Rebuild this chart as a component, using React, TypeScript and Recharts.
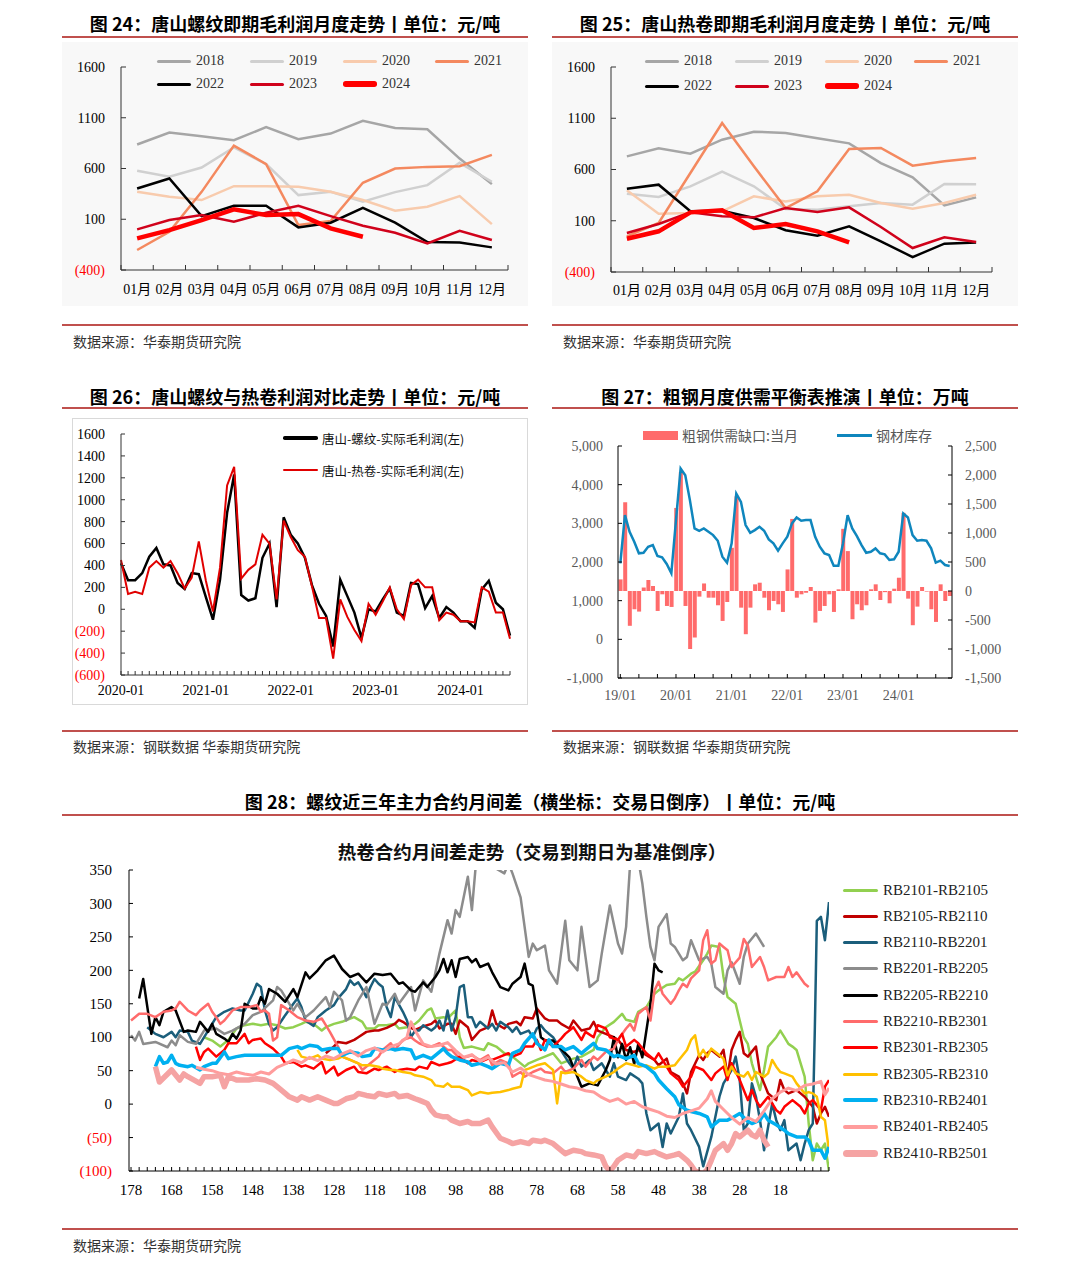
import React from 'react';
import { LineChart, Line, XAxis, YAxis, ComposedChart, Bar } from 'recharts';

const SERIF = "'Liberation Serif', 'Noto Sans CJK SC', serif";
const SANS = "'Noto Sans CJK SC', 'Noto Sans', sans-serif";
const RULE = '#c0504d';

// ---- fig 24 / 25: monthly spot gross profit ----
const MONTHS = ['01月', '02月', '03月', '04月', '05月', '06月', '07月', '08月', '09月', '10月', '11月', '12月'];
const YEARS = ['2018', '2019', '2020', '2021', '2022', '2023', '2024'];

const rebar2018 = [836, 954, 918, 879, 1007, 889, 944, 1069, 1000, 987, 698, 446];
const rebar2019 = [577, 518, 610, 807, 643, 338, 370, 272, 367, 436, 656, 469];
const rebar2020 = [370, 321, 289, 426, 426, 420, 370, 289, 184, 223, 328, 52];
const rebar2021 = [-203, -23, 370, 826, 643, 43, 82, 459, 600, 616, 623, 734];
const rebar2022 = [403, 502, 131, 233, 233, 20, 66, 213, 66, -125, -128, -177];
const rebar2023 = [0, 92, 141, 75, 164, 233, 131, 36, -33, -138, -13, -105];
const rebar2024 = [-89, -7, 92, 197, 141, 151, 10, -72];

const coil2018 = [728, 806, 754, 891, 969, 956, 904, 855, 663, 524, 250, 328];
const coil2019 = [364, 332, 436, 579, 436, 215, 208, 241, 273, 257, 459, 455];
const coil2020 = [397, 169, 176, 192, 338, 289, 338, 354, 273, 218, 273, 354];
const coil2021 = [-52, 78, 566, 1054, 631, 224, 387, 800, 810, 637, 680, 712];
const coil2022 = [413, 452, 192, 198, 127, 7, -45, 46, -101, -254, -124, -111];
const coil2023 = [-20, 68, 182, 143, 133, 224, 185, 231, 39, -166, -62, -107];
const coil2024 = [-75, -3, 182, 202, 29, 68, -3, -111];

const YEAR_COLORS = ['#a6a6a6', '#d0d0d0', '#f8cbad', '#f4895f', '#000000', '#d0021b', '#ff0000'];
const YEAR_WIDTHS = [2.5, 2.5, 2.5, 2.5, 2.5, 2.5, 4.5];

const buildYearRows = (series: number[][]) =>
  MONTHS.map((_, i) => {
    const row: any = { x: i + 0.5 };
    YEARS.forEach((y, k) => {
      row[y] = series[k][i];
    });
    return row;
  });

const rebarRows = buildYearRows([rebar2018, rebar2019, rebar2020, rebar2021, rebar2022, rebar2023, rebar2024]);
const coilRows = buildYearRows([coil2018, coil2019, coil2020, coil2021, coil2022, coil2023, coil2024]);

// ---- fig 26: Tangshan rebar vs coil profit, monthly from 2020-01 ----
const PROFIT_YEARS = ['2020', '2021', '2022', '2023', '2024'];
const rebarProfit = [420, 265, 265, 330, 480, 560, 410, 400, 240, 185, 330, 320, 110, -95, 270, 880, 1230, 130, 80, 100, 470, 600, 20, 840, 680, 600, 470, 220, 50, -60, -340, 270, 120, -30, -260, 0, -20, 90, 190, -30, -60, 240, 230, 10, 120, -80, 20, -30, -110, -110, -170, 180, 260, 60, 0, -240];
const coilProfit = [450, 140, 160, 140, 380, 440, 380, 440, 330, 190, 290, 620, 260, -20, 380, 1130, 1300, 280, 360, 410, 680, 600, 90, 810, 660, 540, 480, 210, -80, -80, -450, 90, -70, -190, -290, 50, -50, 70, 200, 0, -90, 220, 270, 200, 200, -100, -30, -50, -110, -110, -120, 200, 160, -30, -30, -270];
const profitRows = rebarProfit.map((v, i) => ({ i, rebar: v, coil: coilProfit[i] }));

// ---- fig 27: crude steel balance, monthly 19/01 - 24/12 ----
const BAL_YEARS = ['19', '20', '21', '22', '23', '24'];
const steelGap = [200, 1530, -600, -315, -355, 60, 190, 86, -344, -57, -258, -275, 1432, 2050, -258, -1000, -802, -97, 130, -115, -115, -246, -516, -190, 745, 1633, -287, -745, -287, 115, 143, -115, -332, -172, -229, -361, 372, 1243, -115, -57, -29, 69, -544, -344, -258, -57, -361, 29, 1072, 688, -487, -229, -332, -246, 29, 115, -155, -20, -212, 40, 229, 1347, -132, -590, -269, 69, -10, -315, -533, 115, -172, -86];
const steelStock = [1966, 3212, 2782, 2524, 2224, 2240, 2395, 2438, 2155, 2120, 1948, 1708, 3083, 4415, 4244, 3600, 2868, 2808, 2868, 2782, 2696, 2550, 2137, 1983, 2481, 3770, 3556, 2954, 2756, 2825, 2911, 2808, 2585, 2481, 2292, 2481, 2653, 2997, 3152, 3066, 3083, 3083, 2653, 2395, 2224, 2180, 1906, 1906, 2481, 3212, 2868, 2670, 2438, 2240, 2266, 2352, 2224, 2197, 2051, 2069, 2266, 3255, 3152, 2696, 2550, 2567, 2550, 2352, 1983, 2034, 1923, 1897];
const balLabels: string[] = [];
BAL_YEARS.forEach((y) => MONTHS.forEach((_, m) => balLabels.push(`${y}/${String(m + 1).padStart(2, '0')}`)));
const balRows = balLabels.map((m, i) => ({ m, gap: steelGap[i], stock: steelStock[i] }));

// ---- fig 28: calendar spreads, [trading days to expiry, spread] ----
const rb2101 = [[160, 100], [158, 95], [156, 86], [154, 96], [152, 113], [150, 118], [148, 120], [146, 118], [144, 120], [142, 118], [140, 113], [138, 115], [136, 120], [135, 123], [133, 120], [131, 110], [130, 115], [128, 120], [126, 123], [124, 128], [123, 130], [121, 123], [120, 113], [118, 113], [117, 118], [115, 118], [113, 120], [112, 113], [110, 115], [108, 120], [107, 125], [105, 140], [104, 143], [103, 128], [101, 130], [100, 128], [98, 140], [97, 100], [96, 84], [94, 86], [91, 81], [90, 91], [88, 86], [86, 76], [84, 71], [81, 56], [80, 61], [78, 66], [76, 71], [74, 76], [72, 61], [69, 68], [67, 71], [64, 81], [63, 100], [61, 115], [59, 123], [57, 135], [56, 126], [54, 123], [53, 138], [51, 145], [49, 165], [48, 170], [46, 178], [44, 180], [43, 188], [42, 185], [40, 195], [39, 198], [37, 215], [36, 225], [35, 237], [33, 235], [32, 190], [31, 160], [29, 150], [28, 125], [27, 100], [26, 90], [25, 61], [23, 21], [22, 51], [21, 86], [19, 100], [18, 110], [17, 100], [16, 90], [15, 86], [14, 81], [12, 41], [11, -29], [10, -84], [9, -59], [8, -69], [7, -59], [6, -100]];
const rb2105 = [[130, 76], [128, 86], [127, 93], [125, 91], [123, 96], [122, 100], [120, 108], [118, 110], [117, 110], [115, 114], [113, 120], [112, 126], [111, 123], [109, 114], [108, 111], [106, 116], [104, 120], [103, 125], [102, 113], [100, 120], [99, 120], [98, 105], [97, 125], [95, 115], [94, 96], [92, 110], [90, 115], [89, 140], [88, 120], [86, 113], [85, 120], [83, 123], [82, 118], [81, 130], [79, 128], [78, 143], [76, 128], [75, 125], [73, 125], [72, 120], [70, 113], [69, 125], [67, 110], [65, 113], [64, 123], [63, 110], [61, 105], [59, 100], [58, 96], [56, 81], [54, 78], [53, 81], [51, 73], [49, 66], [48, 58], [46, 68], [45, 48], [43, 41], [42, 31], [41, 16], [40, 48], [38, 73], [37, 66], [36, 76], [35, 81], [33, 71], [32, 81], [31, 41], [30, 81], [29, 96], [28, 108], [27, 76], [26, 71], [24, 86], [23, 46], [22, 31], [21, 16], [19, 6], [18, 36], [17, 21], [16, 16], [14, 21], [13, 16], [12, 11], [10, -4], [9, -29], [8, -14], [7, -4], [6, -19]];
const rb2110 = [[174, 115], [172, 105], [170, 100], [168, 108], [167, 100], [166, 110], [164, 108], [163, 95], [161, 90], [159, 110], [157, 130], [155, 138], [153, 143], [151, 140], [150, 140], [148, 165], [147, 180], [146, 175], [145, 140], [144, 120], [143, 110], [142, 115], [140, 133], [138, 150], [137, 158], [136, 145], [135, 125], [133, 117], [132, 130], [130, 140], [128, 148], [127, 158], [125, 172], [124, 185], [123, 178], [122, 182], [121, 172], [120, 160], [119, 175], [118, 187], [117, 180], [116, 175], [115, 145], [114, 130], [113, 160], [111, 138], [110, 125], [109, 100], [108, 110], [107, 110], [106, 118], [104, 110], [103, 115], [102, 125], [101, 110], [100, 140], [99, 110], [98, 130], [97, 175], [96, 178], [95, 130], [94, 130], [93, 115], [92, 123], [90, 113], [89, 120], [88, 110], [87, 123], [85, 115], [84, 108], [83, 115], [82, 105], [80, 110], [79, 100], [78, 113], [77, 118], [76, 110], [74, 100], [73, 90], [72, 80], [70, 61], [69, 53], [68, 71], [67, 56], [65, 66], [64, 51], [62, 61], [61, 51], [60, 41], [59, 61], [58, 41], [56, 36], [55, 46], [53, 38], [52, 31], [51, -14], [50, -39], [48, -29], [47, -64], [46, -29], [45, -44], [43, -19], [42, 16], [41, -29], [40, -39], [38, -64], [37, -93], [35, -49], [34, -19], [33, 11], [32, 31], [30, 51], [29, 71], [28, 36], [27, -39], [26, -29], [25, 31], [24, 11], [23, -24], [22, -69], [20, 1], [19, -24], [18, -39], [17, -24], [16, -69], [14, -59], [13, -84], [12, -59], [11, -39], [10, -29], [9.5, 110], [9, 274], [8, 280], [7, 245], [6, 302]];
const rb2201 = [[178, 103], [177, 95], [176, 108], [175, 90], [172, 93], [169, 85], [168, 95], [167, 88], [166, 103], [164, 93], [162, 90], [160, 110], [157, 113], [155, 105], [153, 110], [150, 120], [148, 133], [146, 138], [143, 155], [142, 175], [141, 170], [138, 140], [137, 150], [135, 130], [133, 140], [130, 160], [129, 145], [128, 168], [126, 155], [125, 125], [124, 130], [122, 155], [120, 175], [118, 120], [116, 150], [115, 148], [113, 165], [112, 150], [109, 175], [108, 140], [106, 185], [104, 168], [102, 225], [100, 275], [99, 255], [98, 290], [97, 280], [95, 340], [94, 290], [93, 360], [90, 365], [88, 352], [86, 345], [85, 360], [84, 345], [83, 327], [82, 309], [80, 220], [79, 240], [78, 230], [76, 237], [75, 200], [73, 180], [71, 274], [70, 215], [68, 200], [67, 265], [66, 220], [65, 175], [63, 185], [62, 225], [60, 297], [58, 240], [57, 225], [56, 265], [55, 360], [53, 365], [52, 330], [51, 280], [50, 235], [49, 215], [48, 265], [46, 284], [45, 240], [44, 235], [42, 215], [41, 220], [40, 245], [38, 215], [36, 220], [35, 210], [34, 175], [32, 165], [31, 200], [30, 212], [28, 180], [27, 220], [26, 240], [24, 255], [23, 245], [22, 235]];
const rb2205 = [[176, 158], [175, 187], [173, 105], [172, 130], [171, 118], [170, 138], [168, 145], [167, 140], [165, 108], [164, 110], [162, 108], [161, 123], [159, 108], [158, 120], [157, 105], [155, 98], [154, 93], [153, 105], [152, 98], [151, 110], [150, 150], [148, 143], [147, 143], [146, 160], [145, 150], [144, 172], [142, 165], [140, 153], [138, 172], [137, 160], [135, 197], [134, 188], [132, 200], [130, 215], [128, 222], [126, 202], [124, 190], [122, 195], [120, 182], [118, 195], [116, 193], [114, 195], [112, 180], [111, 182], [109, 170], [108, 168], [106, 182], [105, 175], [103, 190], [102, 200], [101, 217], [100, 197], [99, 215], [98, 190], [97, 217], [95, 220], [94, 212], [93, 217], [92, 205], [90, 210], [89, 197], [87, 175], [85, 170], [84, 180], [82, 190], [81, 210], [80, 180], [79, 177], [77, 100], [76, 95], [74, 95], [70, 70], [68, 41], [67, 26], [65, 31], [63, 28], [61, 51], [60, 66], [59, 100], [58, 70], [57, 90], [56, 66], [55, 85], [54, 60], [53, 90], [52, 70], [50, 150], [49, 210], [48, 200], [47, 197]];
const rb2210 = [[178, 125], [176, 135], [174, 135], [172, 130], [170, 138], [168, 140], [167, 143], [166, 153], [164, 140], [162, 133], [161, 140], [159, 150], [158, 138], [157, 130], [156, 120], [155, 125], [153, 140], [151, 145], [149, 145], [147, 148], [146, 138], [145, 140], [144, 135], [143, 95], [142, 100], [141, 148], [139, 140], [137, 130], [135, 125], [133, 123], [131, 128], [130, 118], [129, 108], [127, 86], [126, 71], [124, 66], [122, 61], [121, 51], [119, 61], [117, 71], [116, 81], [114, 91], [113, 81], [111, 96], [109, 100], [108, 95], [107, 91], [105, 86], [104, 86], [102, 91], [100, 81], [99, 81], [97, 68], [95, 71], [94, 73], [92, 66], [90, 73], [89, 58], [87, 66], [85, 61], [84, 41], [82, 48], [81, 41], [79, 48], [77, 53], [76, 48], [74, 46], [72, 56], [71, 48], [69, 53], [67, 66], [66, 56], [64, 71], [63, 66], [61, 78], [59, 83], [58, 96], [56, 113], [55, 120], [54, 110], [53, 135], [51, 145], [50, 125], [49, 170], [48, 183], [47, 165], [45, 150], [44, 158], [43, 170], [42, 180], [41, 175], [40, 188], [38, 200], [37, 245], [36, 260], [35, 210], [34, 215], [33, 240], [32, 235], [31, 230], [30, 205], [28, 219], [27, 247], [26, 237], [25, 205], [23, 220], [22, 205], [21, 185], [19, 190], [17, 190], [16, 205], [15, 190], [14, 197], [12, 180], [11, 175]];
const rb2301 = [[162, 86], [161, 66], [160, 78], [159, 83], [157, 71], [155, 81], [154, 91], [152, 91], [150, 105], [149, 91], [148, 96], [146, 98], [145, 91], [143, 83], [141, 71], [140, 61], [138, 63], [136, 56], [135, 58], [133, 53], [131, 63], [130, 46], [128, 56], [127, 43], [125, 51], [123, 56], [122, 48], [120, 46], [118, 53], [117, 51], [115, 56], [113, 48], [112, 51], [110, 53], [108, 51], [107, 56], [105, 53], [104, 63], [102, 58], [100, 61], [99, 63], [97, 71], [95, 61], [94, 66], [92, 63], [90, 68], [89, 66], [87, 71], [85, 76], [84, 71], [82, 76], [81, 86], [79, 86], [78, 96], [77, 81], [76, 96], [74, 86], [72, 98], [71, 105], [69, 115], [67, 96], [66, 108], [64, 100], [63, 118], [61, 113], [60, 100], [58, 96], [57, 105], [56, 86], [54, 96], [53, 91], [51, 76], [49, 66], [48, 76], [46, 56], [45, 46], [43, 36], [42, 26], [40, 41], [39, 56], [37, 51], [35, 36], [34, 46], [32, 56], [31, 36], [30, 61], [28, 36], [26, 6], [25, 21], [24, 6], [23, -4], [21, 11], [20, 1], [19, -9], [18, -14], [17, -4], [15, 6], [13, -4], [12, -14], [11, 1], [10, 6], [8, -9], [7, 26], [6, 36]];
const rb2305 = [[137, 81], [136, 71], [134, 68], [132, 73], [131, 68], [129, 66], [127, 68], [126, 71], [124, 66], [122, 61], [121, 58], [119, 58], [117, 56], [116, 53], [114, 51], [113, 51], [111, 48], [109, 46], [108, 43], [106, 41], [104, 36], [103, 28], [101, 26], [100, 31], [99, 26], [97, 26], [95, 21], [94, 13], [92, 18], [90, 16], [89, 17], [87, 18], [85, 21], [84, 23], [82, 26], [81, 51], [80, 53], [78, 58], [76, 61], [75, 56], [74, 51], [73, 1], [72, 48], [71, 46], [69, 48], [67, 41], [66, 36], [64, 31], [63, 36], [61, 41], [59, 48], [58, 53], [56, 61], [54, 58], [53, 56], [51, 58], [49, 53], [48, 56], [46, 56], [44, 58], [43, 66], [41, 81], [40, 96], [39, 103], [38, 71], [37, 81], [36, 71], [35, 83], [33, 73], [32, 68], [31, 43], [30, 56], [29, 46], [27, 41], [26, 48], [25, 36], [24, 48], [22, 41], [21, 46], [20, 66], [19, 56], [18, 48], [17, 46], [15, 41], [14, 31], [12, 16], [11, 18], [10, 16], [9, 11], [8, -19], [7, -24], [6, -70]];
const rb2310 = [[172, 56], [171, 71], [170, 61], [169, 63], [168, 73], [167, 61], [166, 58], [164, 56], [163, 58], [161, 51], [160, 56], [158, 61], [157, 61], [155, 78], [154, 68], [152, 71], [150, 73], [148, 73], [146, 73], [144, 73], [142, 73], [141, 73], [139, 83], [137, 86], [136, 83], [134, 88], [132, 86], [131, 81], [129, 83], [127, 83], [126, 73], [124, 78], [122, 76], [121, 71], [119, 73], [118, 83], [116, 81], [114, 83], [113, 81], [111, 83], [109, 81], [108, 68], [106, 73], [104, 68], [103, 73], [101, 83], [100, 76], [99, 71], [97, 66], [95, 63], [94, 58], [92, 61], [90, 56], [89, 53], [87, 61], [85, 58], [84, 76], [82, 81], [81, 91], [79, 105], [78, 91], [76, 81], [75, 96], [74, 86], [72, 86], [71, 81], [69, 86], [67, 76], [66, 81], [64, 91], [63, 83], [61, 81], [59, 71], [58, 73], [56, 68], [54, 73], [53, 61], [51, 56], [49, 46], [48, 36], [46, 23], [44, 11], [43, -1], [41, -9], [40, -11], [38, -14], [36, -19], [35, -34], [33, -24], [31, -24], [30, -21], [28, -14], [26, -26], [25, -29], [23, -24], [22, -14], [21, -24], [19, -31], [17, -39], [16, -44], [14, -49], [12, -49], [11, -54], [10, -69], [8, -69], [7, -81], [6, -64]];
const rb2401 = [[162, 55], [160, 52], [158, 50], [156, 46], [154, 44], [152, 48], [150, 45], [148, 43], [146, 48], [144, 45], [142, 55], [140, 60], [138, 66], [136, 62], [134, 70], [132, 65], [130, 72], [128, 68], [126, 75], [124, 80], [122, 72], [120, 80], [118, 84], [116, 78], [114, 86], [112, 90], [110, 100], [109, 123], [108, 110], [106, 90], [104, 86], [102, 88], [100, 92], [98, 80], [96, 70], [94, 74], [92, 64], [90, 70], [88, 60], [86, 62], [84, 48], [82, 54], [80, 44], [78, 40], [76, 36], [74, 34], [72, 30], [70, 26], [68, 24], [66, 20], [64, 18], [62, 10], [60, 4], [58, 8], [56, 0], [54, 4], [52, -4], [50, -8], [48, -12], [46, -18], [44, -20], [42, -14], [40, -10], [38, -6], [36, 8], [35, 20], [34, 4], [32, -8], [30, -20], [28, -30], [26, -20], [24, -26], [22, -10], [20, 8], [18, 18], [16, 24], [14, 20], [12, 28], [10, 30], [8, 34], [7, 14], [6, 24]];
const rb2410 = [[172, 56], [171, 33], [169, 45], [168, 51], [166, 36], [165, 45], [164, 41], [161, 31], [160, 41], [158, 41], [156, 43], [155, 26], [154, 41], [152, 36], [149, 36], [147, 38], [145, 36], [143, 31], [142, 26], [140, 16], [139, 11], [137, 6], [136, 11], [134, 6], [132, 11], [130, 6], [128, 1], [127, 1], [125, 8], [123, 11], [122, 16], [120, 13], [118, 11], [117, 16], [115, 13], [113, 16], [112, 11], [110, 13], [108, 8], [107, 6], [105, 1], [104, -9], [103, -16], [101, -19], [100, -19], [99, -24], [97, -29], [95, -26], [94, -29], [92, -29], [90, -24], [89, -34], [87, -51], [85, -56], [84, -59], [82, -56], [80, -59], [79, -54], [77, -56], [76, -54], [74, -59], [72, -69], [71, -74], [69, -69], [67, -71], [66, -74], [64, -76], [62, -79], [61, -93], [60, -100], [59, -93], [58, -84], [56, -76], [54, -79], [53, -71], [51, -74], [49, -71], [48, -74], [46, -79], [44, -76], [43, -74], [41, -84], [40, -91], [39, -100], [37, -104], [36, -98], [35, -84], [34, -69], [32, -59], [31, -69], [30, -59], [29, -44], [28, -49], [26, -39], [25, -46], [24, -49], [23, -39], [22, -54], [21, -64]];

const SPREAD_NAMES = ['RB2101-RB2105', 'RB2105-RB2110', 'RB2110-RB2201', 'RB2201-RB2205', 'RB2205-RB2210', 'RB2210-RB2301', 'RB2301-RB2305', 'RB2305-RB2310', 'RB2310-RB2401', 'RB2401-RB2405', 'RB2410-RB2501'];
const SPREADS = [rb2101, rb2105, rb2110, rb2201, rb2205, rb2210, rb2301, rb2305, rb2310, rb2401, rb2410];
const SPREAD_COLORS = ['#92d050', '#c00000', '#1b5e7b', '#8c8c8c', '#000000', '#ff6b6b', '#ff0000', '#ffc000', '#00b0f0', '#ff9c9c', '#f5a3a3'];
const SPREAD_WIDTHS = [2.5, 2.5, 2.5, 2.5, 2.5, 2.5, 2.5, 2.5, 3.5, 3, 5.5];
const DAY_TICKS: number[] = [];
for (let d = 178; d >= 6; d -= 2) DAY_TICKS.push(d);

// ---- shared bits ----
const paren = (v: number) => (v < 0 ? `(${Math.abs(v)})` : String(v));

const parenTick = (size: number) => (p: any) => (
  <text x={p.x} y={p.y} dy="0.35em" textAnchor="end" fontSize={size} fontFamily={SERIF} fill={p.payload.value < 0 ? '#ff0000' : '#000'}>
    {paren(p.payload.value)}
  </text>
);

const monthTick = (band: number) => (p: any) => {
  const v = p.payload.value;
  if (v >= 12) return <g />;
  return (
    <text x={p.x + band / 2} y={p.y} dy="0.71em" textAnchor="middle" fontSize={14} fontFamily={SERIF} fill="#000">
      {MONTHS[v]}
    </text>
  );
};

const Title = ({ left, width, top, text }: any) => (
  <div style={{ position: 'absolute', left, top, width, textAlign: 'center', fontFamily: SANS, fontWeight: 700, fontSize: 18, lineHeight: '22px', color: '#000', whiteSpace: 'nowrap' }}>
    {text}
  </div>
);

const Rule = ({ left, width, top }: any) => (
  <div style={{ position: 'absolute', left, top, width, height: 2, background: RULE }} />
);

const Source = ({ left, top, text }: any) => (
  <div style={{ position: 'absolute', left, top, fontFamily: SANS, fontSize: 14, lineHeight: '18px', color: '#333', whiteSpace: 'nowrap' }}>
    {text}
  </div>
);

const LegendItem = ({ left, top, color, width, label, lineW = 34, size = 14, font = SERIF, gap = 5, textColor = '#333' }: any) => (
  <div style={{ position: 'absolute', left, top: top - 9, height: 18, display: 'flex', alignItems: 'center', whiteSpace: 'nowrap' }}>
    <div style={{ width: lineW, height: width, background: color, borderRadius: width / 2 }} />
    <span style={{ marginLeft: gap, fontFamily: font, fontSize: size, color: textColor }}>{label}</span>
  </div>
);

const YearChart = ({ left, rows, marginRight, xHeight, tickMargin, yearLegend }: any) => {
  const plotW = 466 - 59 - marginRight;
  return (
    <div style={{ position: 'absolute', left, top: 42, width: 466, height: 264, background: '#f8f8f8' }}>
      <LineChart width={466} height={264} data={rows} margin={{ top: 25, right: marginRight, left: 0, bottom: 0 }}>
        <XAxis type="number" dataKey="x" domain={[0, 12]} ticks={[0, 1, 2, 3, 4, 5, 6, 7, 8, 9, 10, 11, 12]} interval={0} height={xHeight} stroke="#333" tickSize={-5} tickMargin={tickMargin} tick={monthTick(plotW / 12)} />
        <YAxis type="number" domain={[-400, 1600]} ticks={[-400, 100, 600, 1100, 1600]} interval={0} width={59} stroke="#333" tickSize={-5} tickMargin={21} tick={parenTick(14)} />
        {YEARS.map((y, k) => (
          <Line key={y} type="linear" dataKey={y} stroke={YEAR_COLORS[k]} strokeWidth={YEAR_WIDTHS[k]} dot={false} isAnimationActive={false} />
        ))}
      </LineChart>
      {yearLegend}
    </div>
  );
};

const yearLegend = (xs: number[], rowY: number[], originX: number) =>
  YEARS.map((y, k) => (
    <LegendItem key={y} left={xs[k % 4] - originX} top={rowY[k < 4 ? 0 : 1] - 42} color={YEAR_COLORS[k]} width={k === 6 ? 5.5 : 3} label={y} />
  ));

export default function App() {
  return (
    <div style={{ position: 'absolute', left: 0, top: 0, width: 1080, height: 1267, background: '#fff', overflow: 'hidden' }}>
      {/* Fig 24 / 25 */}
      <Title left={62} width={466} top={12} text="图 24：唐山螺纹即期毛利润月度走势丨单位：元/吨" />
      <Title left={552} width={466} top={12} text="图 25：唐山热卷即期毛利润月度走势丨单位：元/吨" />
      <Rule left={62} width={466} top={36} />
      <Rule left={552} width={466} top={36} />
      <YearChart left={62} rows={rebarRows} marginRight={20} xHeight={36} tickMargin={19} yearLegend={yearLegend([157, 250, 343, 435], [61, 84], 62)} />
      <YearChart left={552} rows={coilRows} marginRight={26} xHeight={34} tickMargin={18} yearLegend={yearLegend([645, 735, 825, 914], [61, 86], 552)} />
      <Rule left={62} width={466} top={324} />
      <Rule left={552} width={466} top={324} />
      <Source left={73} top={332} text="数据来源：华泰期货研究院" />
      <Source left={563} top={332} text="数据来源：华泰期货研究院" />

      {/* Fig 26 */}
      <Title left={62} width={466} top={385} text="图 26：唐山螺纹与热卷利润对比走势丨单位：元/吨" />
      <Title left={552} width={466} top={385} text="图 27：粗钢月度供需平衡表推演丨单位：万吨" />
      <Rule left={62} width={466} top={407} />
      <Rule left={552} width={466} top={407} />
      <div style={{ position: 'absolute', left: 72, top: 418, width: 456, height: 287, border: '1px solid #d9d9d9', boxSizing: 'border-box' }}>
        <LineChart width={454} height={285} data={profitRows} margin={{ top: 15, right: 17, left: 0, bottom: 0 }}>
          <XAxis
            type="number"
            dataKey="i"
            domain={[0, 55]}
            ticks={profitRows.map((r) => r.i)}
            interval={0}
            height={29}
            stroke="#333"
            tickSize={-4}
            tickMargin={14}
            tick={(p: any) =>
              p.payload.value % 12 === 0 ? (
                <text x={p.x} y={p.y} dy="0.71em" textAnchor="middle" fontSize={14} fontFamily={SERIF} fill="#000">
                  {`${PROFIT_YEARS[p.payload.value / 12]}-01`}
                </text>
              ) : (
                <g />
              )
            }
          />
          <YAxis type="number" domain={[-600, 1600]} ticks={[-600, -400, -200, 0, 200, 400, 600, 800, 1000, 1200, 1400, 1600]} interval={0} width={48} stroke="#333" tickSize={-4} tickMargin={20} tick={parenTick(14)} />
          <Line type="linear" dataKey="rebar" stroke="#000" strokeWidth={2.5} dot={false} isAnimationActive={false} />
          <Line type="linear" dataKey="coil" stroke="#e00000" strokeWidth={2} dot={false} isAnimationActive={false} />
        </LineChart>
        <LegendItem left={210} top={19} color="#000" width={3.5} lineW={35} gap={4} size={12.5} font={SANS} textColor="#111" label="唐山-螺纹-实际毛利润(左)" />
        <LegendItem left={210} top={51} color="#e00000" width={2.5} lineW={35} gap={4} size={12.5} font={SANS} textColor="#111" label="唐山-热卷-实际毛利润(左)" />
      </div>

      {/* Fig 27 */}
      <div style={{ position: 'absolute', left: 552, top: 418, width: 466, height: 292 }}>
        <ComposedChart width={466} height={292} data={balRows} margin={{ top: 28, right: 0, left: 0, bottom: 0 }} barCategoryGap="12%">
          <XAxis
            dataKey="m"
            ticks={balLabels.filter((_, i) => i % 4 === 0)}
            interval={0}
            height={32}
            stroke="#000"
            tickSize={-4}
            tickMargin={16}
            tick={(p: any) =>
              String(p.payload.value).endsWith('/01') ? (
                <text x={p.x} y={p.y} dy="0.71em" textAnchor="middle" fontSize={14} fontFamily={SERIF} fill="#595959">
                  {p.payload.value}
                </text>
              ) : (
                <g />
              )
            }
          />
          <YAxis yAxisId="left" orientation="left" domain={[-1000, 5000]} ticks={[-1000, 0, 1000, 2000, 3000, 4000, 5000]} interval={0} width={66} stroke="#000" tickSize={-4} tickMargin={19} tick={{ fontSize: 14, fontFamily: SERIF, fill: '#595959' }} tickFormatter={(v: number) => v.toLocaleString('en-US')} />
          <YAxis yAxisId="right" orientation="right" domain={[-1500, 2500]} ticks={[-1500, -1000, -500, 0, 500, 1000, 1500, 2000, 2500]} interval={0} width={66} stroke="#000" tickSize={-4} tickMargin={17} tick={{ fontSize: 14, fontFamily: SERIF, fill: '#595959' }} tickFormatter={(v: number) => v.toLocaleString('en-US')} />
          <Bar yAxisId="right" dataKey="gap" fill="#ff6b6b" isAnimationActive={false} />
          <Line yAxisId="left" type="linear" dataKey="stock" stroke="#0f86bd" strokeWidth={2.5} dot={false} isAnimationActive={false} />
        </ComposedChart>
        <div style={{ position: 'absolute', left: 91, top: 13, width: 35, height: 9, background: '#ff6b6b' }} />
        <span style={{ position: 'absolute', left: 130, top: 7, fontFamily: SANS, fontSize: 14, color: '#595959', whiteSpace: 'nowrap' }}>粗钢供需缺口:当月</span>
        <div style={{ position: 'absolute', left: 285, top: 16, width: 35, height: 3, background: '#0f86bd' }} />
        <span style={{ position: 'absolute', left: 324, top: 7, fontFamily: SANS, fontSize: 14, color: '#595959', whiteSpace: 'nowrap' }}>钢材库存</span>
      </div>
      <Rule left={62} width={466} top={730} />
      <Rule left={552} width={466} top={730} />
      <Source left={73} top={737} text="数据来源：钢联数据  华泰期货研究院" />
      <Source left={563} top={737} text="数据来源：钢联数据  华泰期货研究院" />

      {/* Fig 28 */}
      <Title left={62} width={956} top={790} text="图 28：螺纹近三年主力合约月间差（横坐标：交易日倒序）丨单位：元/吨" />
      <Rule left={62} width={956} top={814} />
      <div style={{ position: 'absolute', left: 62, top: 838, width: 940, textAlign: 'center', fontFamily: SANS, fontWeight: 700, fontSize: 18.5, lineHeight: '26px', color: '#111' }}>
        热卷合约月间差走势（交易到期日为基准倒序）
      </div>
      <div style={{ position: 'absolute', left: 62, top: 860, width: 780, height: 350 }}>
        <LineChart width={780} height={350} margin={{ top: 10, right: 13, left: 0, bottom: 0 }}>
          <XAxis
            type="number"
            dataKey="d"
            domain={[6, 178.5]}
            reversed
            allowDataOverflow
            ticks={DAY_TICKS}
            interval={0}
            height={39}
            stroke="#000"
            tickSize={-4}
            tickMargin={17}
            tick={(p: any) =>
              (178 - p.payload.value) % 10 === 0 && p.payload.value >= 18 ? (
                <text x={p.x} y={p.y} dy="0.71em" textAnchor="middle" fontSize={15} fontFamily={SERIF} fill="#000">
                  {p.payload.value}
                </text>
              ) : (
                <g />
              )
            }
          />
          <YAxis type="number" domain={[-100, 350]} allowDataOverflow ticks={[-100, -50, 0, 50, 100, 150, 200, 250, 300, 350]} interval={0} width={67} stroke="#000" tickSize={-4} tickMargin={21} tick={parenTick(15)} />
          {SPREADS.map((s, k) => (
            <Line
              key={SPREAD_NAMES[k]}
              data={s.map(([d, v]) => ({ d, v }))}
              type="linear"
              dataKey="v"
              stroke={SPREAD_COLORS[k]}
              strokeWidth={SPREAD_WIDTHS[k]}
              strokeLinejoin="round"
              dot={false}
              isAnimationActive={false}
            />
          ))}
        </LineChart>
      </div>
      {SPREAD_NAMES.map((n, k) => (
        <LegendItem key={n} left={843} top={890 + k * 26.3} color={SPREAD_COLORS[k]} width={k === 10 ? 7 : k >= 8 ? 4 : 3} lineW={35} gap={5} size={15} font={SERIF} textColor="#222" label={n} />
      ))}
      <Rule left={62} width={956} top={1228} />
      <Source left={73} top={1236} text="数据来源：华泰期货研究院" />
    </div>
  );
}
